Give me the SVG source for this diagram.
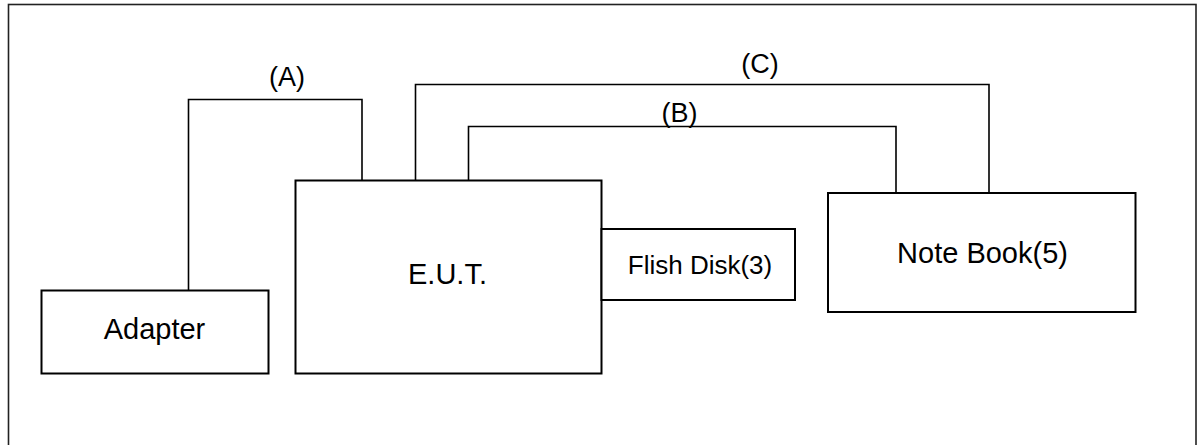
<svg xmlns="http://www.w3.org/2000/svg" width="1202" height="445" viewBox="0 0 1202 445">
<style>
.box{fill:#fff;stroke:#000;stroke-width:2}
.wire{fill:none;stroke:#000;stroke-width:1.6}
text{font-family:"Liberation Sans",Arial,sans-serif;fill:#000;text-anchor:middle}
.lbl{font-size:27px}
</style>
<rect x="0" y="0" width="1202" height="445" fill="#fff"/>
<rect id="frame" x="8.5" y="4.5" width="1187.5" height="460" fill="none" stroke="#222" stroke-width="1.6"/>
<g id="connectors">
<path class="wire" d="M188.5,290 V99.5 H362 V180"/>
<text class="lbl" x="287" y="86">(A)</text>
<path class="wire" d="M415.5,180 V84.5 H989 V193"/>
<text class="lbl" x="760" y="72.5">(C)</text>
<path class="wire" d="M468.5,180 V126.5 H896 V193"/>
<text class="lbl" x="679.5" y="122">(B)</text>
</g>
<g id="adapter">
<rect class="box" x="41.5" y="290.5" width="227" height="83"/>
<text x="154.5" y="338.5" font-size="29">Adapter</text>
</g>
<g id="eut">
<rect class="box" x="295.5" y="180.5" width="306" height="193"/>
<text x="447.5" y="283.5" font-size="29">E.U.T.</text>
</g>
<g id="flashdisk">
<rect class="box" x="601.5" y="229" width="193.5" height="71"/>
<text x="700" y="273.5" font-size="26">Flish Disk(3)</text>
</g>
<g id="notebook">
<rect class="box" x="828" y="193" width="307.5" height="119"/>
<text x="982.5" y="262.5" font-size="29">Note Book(5)</text>
</g>
</svg>
